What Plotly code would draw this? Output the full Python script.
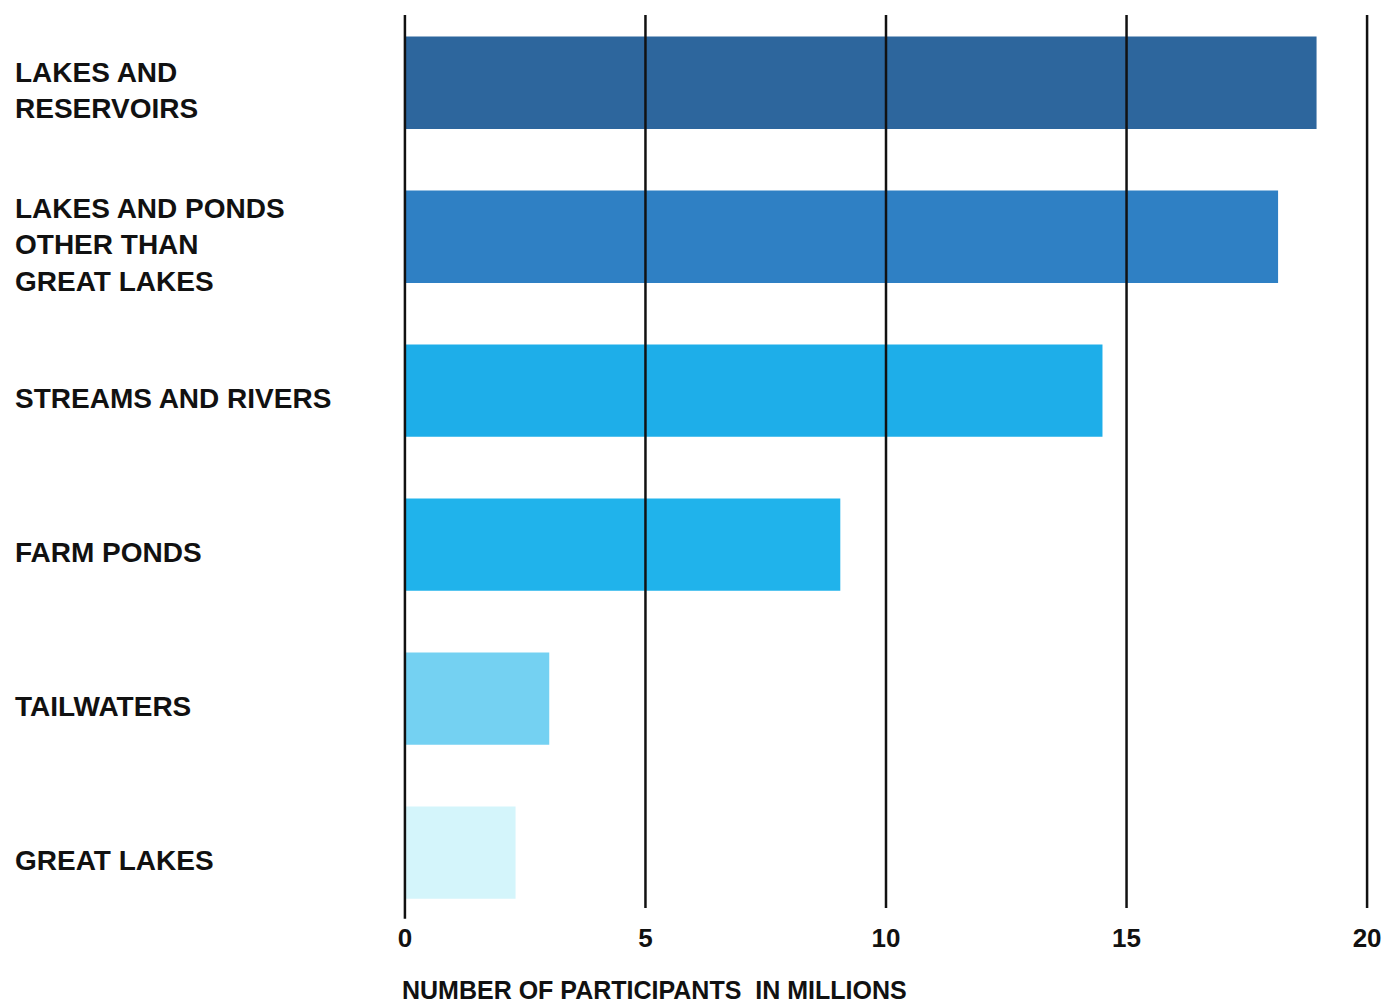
import plotly.graph_objects as go

categories = [
    "LAKES AND<br>RESERVOIRS",
    "LAKES AND PONDS<br>OTHER THAN<br>GREAT LAKES",
    "STREAMS AND RIVERS",
    "FARM PONDS",
    "TAILWATERS",
    "GREAT LAKES",
]
participants = [18.95, 18.15, 14.5, 9.05, 3.0, 2.3]
bar_colors = ["#2d669d", "#2f80c4", "#1eaee9", "#20b3eb", "#74d1f2", "#d4f5fb"]
x_ticks = [0, 5, 10, 15, 20]

W, H = 1388, 1004
L, R, T, B = 403, 19, 15, 96
plot_w = W - L - R

fig = go.Figure()
fig.add_trace(go.Bar(
    y=list(range(len(categories))),
    x=participants,
    orientation="h",
    marker=dict(color=bar_colors, line=dict(width=0)),
    width=0.6,
    hoverinfo="skip",
))

font_family = "Liberation Sans, Arial, sans-serif"

for i, c in enumerate(categories):
    fig.add_annotation(
        x=(13 - L) / plot_w, xref="paper", xanchor="left",
        y=i, yref="y", yanchor="middle", yshift=-8,
        text="<b>" + c + "</b>", showarrow=False, align="left",
        font=dict(family=font_family, size=28, color="#111111"),
    )

# vertical grid lines drawn above the bars, as in the reference
for v in x_ticks:
    fig.add_shape(
        type="line", xref="x", yref="paper",
        x0=v, x1=v, y0=-0.012 if v == 0 else 0.0, y1=1.0,
        line=dict(color="#111111", width=2.5), layer="above",
    )

fig.add_annotation(
    x=(400 - L) / plot_w, xref="paper", xanchor="left",
    y=-(990 - (H - B)) / (H - T - B), yref="paper", yanchor="middle",
    text="<b>NUMBER OF PARTICIPANTS  IN MILLIONS</b>", showarrow=False,
    font=dict(family=font_family, size=25, color="#111111"),
)

fig.update_xaxes(
    range=[-0.04, 20.04], tickvals=x_ticks, ticktext=[f"<b>{v}</b>" for v in x_ticks],
    showgrid=False, zeroline=False, showline=False, ticks="",
    ticklabelstandoff=12, automargin=False,
    tickfont=dict(family=font_family, size=26, color="#111111"),
)
fig.update_yaxes(
    range=[5.36, -0.44], showticklabels=False, showgrid=False,
    zeroline=False, showline=False, ticks="", automargin=False,
)
fig.update_layout(
    width=W, height=H, autosize=False,
    margin=dict(l=L, r=R, t=T, b=B),
    plot_bgcolor="white", paper_bgcolor="white",
    showlegend=False, bargap=0.4,
)
fig.write_html(
    "out.html",
    config={"displayModeBar": False},
    post_script="document.body.style.margin='0';",
)
